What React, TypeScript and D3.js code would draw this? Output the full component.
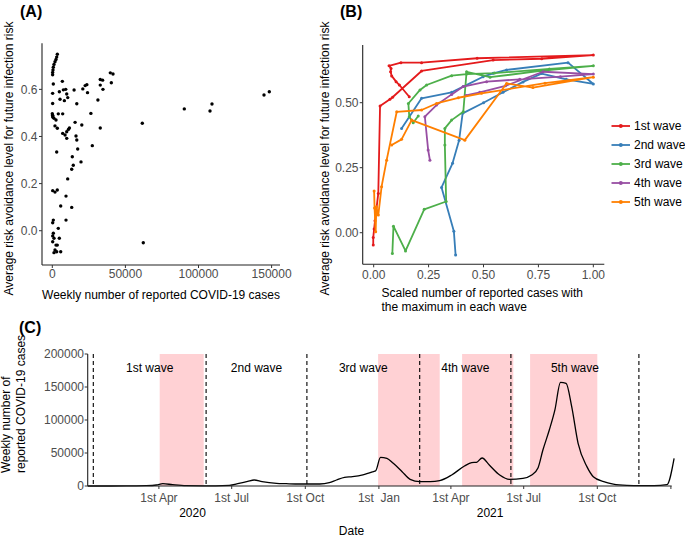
import React from 'react';
import * as d3 from 'd3';

const FONT = '"Liberation Sans", Arial, Helvetica, sans-serif';

// ---------- Panel A data ----------
const casesA = [
  3440, 2980, 2520, 1840, 1150, 690, 460, 230, 230,
  690, 6880, 230, 4820, 7570, 9170, 14900, 9860, 5280, 8260, 10550, 16750, 20870, 22480, 23630, 24090, 26390,
  31200, 32800, 34410, 32800, 34640, 39690, 41520, 40380, 32800,
  230, 0, 230, 460, 270, 1160, 2530, 4100, 7100,
  1840, 3440, 15590, 20180,
  7110, 8720, 9860, 11010, 11700, 9860, 16210, 16750, 17370, 27360, 3010, 13680, 14360, 13270, 19630, 10530,
  270, 1850, 3420, 9370, 5750, 13270, 9370, 700, 270, 4100,
  700, 270, 1160, 4800, 270, 2530, 3400, 1850, 1160, 3010, 5750,
  62240, 61560, 90290, 107870, 109230, 144800, 148430,
];
const riskA = [
  0.749, 0.737, 0.727, 0.717, 0.706, 0.694, 0.682, 0.672, 0.662,
  0.623, 0.634, 0.583, 0.59, 0.598, 0.6, 0.597, 0.58, 0.558, 0.552, 0.565, 0.539, 0.602, 0.616, 0.62, 0.586, 0.498,
  0.555, 0.642, 0.639, 0.618, 0.6, 0.67, 0.665, 0.628, 0.436,
  0.54, 0.497, 0.49, 0.482, 0.487, 0.477, 0.47, 0.496, 0.496,
  0.445, 0.435, 0.46, 0.449,
  0.413, 0.406, 0.42, 0.43, 0.436, 0.392, 0.402, 0.385, 0.347, 0.361, 0.334, 0.314, 0.278, 0.261, 0.292, 0.22,
  0.17, 0.164, 0.173, 0.147, 0.105, 0.099, 0.045, 0.045, 0.034, 0.01,
  -0.011, -0.022, -0.032, -0.032, -0.047, -0.061, -0.061, -0.082, -0.093, -0.089, -0.089,
  -0.051, 0.456, 0.517, 0.508, 0.538, 0.576, 0.59,
];
const xTicksA = [0, 50000, 100000, 150000];
const yTicksA = [0, 0.2, 0.4, 0.6];

// ---------- Panel B data (scaled cases, risk avoidance) ----------
const wave1 = [
  [-0.002, -0.047], [-0.002, -0.018], [0.002, 0.014], [0.006, 0.046], [0.021, 0.151], [0.029, 0.487],
  [0.074, 0.513], [0.086, 0.521], [0.218, 0.622], [0.544, 0.664], [0.765, 0.669], [1.0, 0.683],
  [0.471, 0.671], [0.218, 0.654], [0.124, 0.654], [0.07, 0.642], [0.079, 0.632], [0.077, 0.619],
  [0.082, 0.603], [0.102, 0.581], [0.117, 0.568], [0.162, 0.523],
];
const wave2 = [
  [0.373, -0.086], [0.365, 0.006], [0.309, 0.174], [0.359, 0.267], [0.389, 0.356], [0.405, 0.459],
  [0.5, 0.5], [0.589, 0.54], [0.68, 0.58], [0.764, 0.612], [0.877, 0.59], [1.0, 0.572], [0.885, 0.654],
  [0.605, 0.626], [0.544, 0.613], [0.498, 0.6], [0.408, 0.562], [0.355, 0.54], [0.218, 0.517], [0.127, 0.401],
];
const wave3 = [
  [0.085, -0.08], [0.09, 0.025], [0.145, -0.07], [0.23, 0.09], [0.33, 0.12], [0.324, 0.337], [0.324, 0.401],
  [0.355, 0.433], [0.408, 0.465], [0.423, 0.619], [0.53, 0.598], [0.76, 0.622], [1.0, 0.642], [0.8, 0.63],
  [0.55, 0.614], [0.423, 0.61], [0.355, 0.604], [0.241, 0.568], [0.211, 0.549], [0.158, 0.497],
  [0.162, 0.446], [0.18, 0.423], [0.203, 0.449],
];
const wave4 = [
  [0.256, 0.279], [0.248, 0.318], [0.233, 0.446], [0.286, 0.491], [0.355, 0.532], [0.408, 0.562],
  [0.514, 0.581], [0.665, 0.59], [0.85, 0.6], [1.0, 0.61], [0.771, 0.619], [0.6, 0.565], [0.483, 0.54],
  [0.42, 0.528],
];
const wave5 = [
  [0.082, 0.337], [0.127, 0.359], [0.173, 0.433], [0.415, 0.356], [0.605, 0.574], [0.725, 0.558],
  [1.0, 0.598], [0.78, 0.575], [0.491, 0.536], [0.385, 0.519], [0.286, 0.497], [0.218, 0.472],
  [0.105, 0.465], [0.059, 0.279], [0.036, 0.177], [0.021, 0.068], [0.012, 0.1], [0.009, 0.004],
  [0.004, 0.095], [0.002, 0.16],
];
const waveNames = ['1st wave', '2nd wave', '3rd wave', '4th wave', '5th wave'];
const waveColors = ['#E41A1C', '#377EB8', '#4DAF4A', '#984EA3', '#FF7F00'];
const xTicksB = [0, 0.25, 0.5, 0.75, 1.0];
const yTicksB = [0, 0.25, 0.5];

// ---------- Panel C data ----------
const weekDates = [
  '2020-01-03', '2020-02-01', '2020-03-01', '2020-03-16', '2020-03-29', '2020-04-06', '2020-04-18',
  '2020-05-05', '2020-05-26', '2020-06-11', '2020-06-28', '2020-07-10', '2020-07-21', '2020-07-29',
  '2020-08-08', '2020-08-26', '2020-09-07', '2020-09-24', '2020-10-06', '2020-10-19', '2020-10-31',
  '2020-11-09', '2020-11-19', '2020-11-29', '2020-12-12', '2020-12-25', '2020-12-28', '2021-01-03',
  '2021-01-11', '2021-01-19', '2021-01-30', '2021-02-09', '2021-02-21', '2021-03-06', '2021-03-18',
  '2021-04-02', '2021-04-18', '2021-04-27', '2021-05-03', '2021-05-10', '2021-05-19', '2021-06-01',
  '2021-06-13', '2021-06-30', '2021-07-11', '2021-07-19', '2021-07-25', '2021-08-02', '2021-08-09',
  '2021-08-16', '2021-08-23', '2021-08-30', '2021-09-07', '2021-09-18', '2021-09-26', '2021-10-09',
  '2021-10-21', '2021-11-07', '2021-11-24', '2021-12-11', '2021-12-27', '2022-01-05',
];
const weeklyCases = [
  0, 0, 200, 500, 1500, 3500, 2000,
  500, 300, 300, 1000, 4000, 7000, 9100,
  6600, 4000, 3500, 3000, 3000, 3000, 5000,
  9100, 13100, 14100, 16700, 21700, 23000, 43400,
  41900, 34300, 21700, 10100, 6600, 6600, 8100,
  16700, 30300, 35400, 35900, 42400, 31800, 16700,
  10100, 11600, 16700, 27800, 54500, 84800, 115200,
  157100, 155600, 120200, 64600, 29300, 14100, 6600,
  3000, 1000, 500, 500, 2000, 42000,
];
const emergencyStart = ['2020-04-02', '2020-12-31', '2021-04-15', '2021-07-09'];
const emergencyEnd = ['2020-05-27', '2021-03-18', '2021-06-18', '2021-10-01'];
const surveyDates = ['2020-01-10', '2020-05-30', '2020-10-03', '2021-02-21', '2021-06-15', '2021-11-22'];
const dateTicks = ['2020-04-01', '2020-07-01', '2020-10-01', '2021-01-01', '2021-04-01', '2021-07-01', '2021-10-01', '2022-01-01'];
const dateTickLabels = ['1st Apr', '1st Jul', '1st Oct', '1st\u00a0\u00a0Jan', '1st Apr', '1st Jul', '1st Oct', ''];
const yearLabels = ['2020', '2021'];
const yearLabelDates = ['2020-05-13', '2021-05-20'];
const yTicksC = [0, 50000, 100000, 150000, 200000];

const parse = d3.timeParse('%Y-%m-%d');

export default function App() {
  // Panel A scales
  const xA = d3.scaleLinear().domain([-7045, 155745]).range([42, 280]);
  const yA = d3.scaleLinear().domain([-0.1455, 0.7955]).range([265, 43.3]);
  // Panel B scales
  const xB = d3.scaleLinear().domain([-0.05, 1.05]).range([362.7, 604.3]);
  const yB = d3.scaleLinear().domain([-0.1215, 0.7219]).range([264.3, 45]);
  // Panel C scales
  const xC = d3.scaleTime().domain([parse('2020-01-03')!, parse('2022-01-02')!]).range([87.7, 671.7]);
  const yC = d3.scaleLinear().domain([0, 200000]).range([486, 354]);

  const waves = [wave1, wave2, wave3, wave4, wave5];
  const lineB = d3.line<number[]>().x((d) => xB(d[0])).y((d) => yB(d[1]));

  const caseData = weekDates.map((d, i) => ({ date: parse(d)!, v: weeklyCases[i] }));
  const lineC = d3
    .line<{ date: Date; v: number }>()
    .x((d) => xC(d.date))
    .y((d) => yC(d.v))
    .curve(d3.curveMonotoneX);

  const tickColor = '#333';
  const labelColor = '#4d4d4d';
  const axisColor = '#222';

  const fmtA = (v: number) => (v === 0 ? '0.0' : d3.format('.1f')(v));
  const fmtB = d3.format('.2f');

  const yTop = 354;
  const yBot = 486;

  // wave label positions: midpoints between survey boundary dates
  const waveLabelX = surveyDates.slice(0, 5).map((d, i) => (xC(parse(d)!) + xC(parse(surveyDates[i + 1])!)) / 2);

  return (
    <svg
      width={685}
      height={540}
      style={{ position: 'absolute', left: 0, top: 0, background: '#fff' }}
      fontFamily={FONT}
    >
      <rect x={0} y={0} width={685} height={540} fill="#fff" />

      {/* ================= Panel A ================= */}
      <text x={20} y={17} fontSize={16} fontWeight="bold" fill="#000">(A)</text>
      {casesA.map((c, i) => (
        <circle key={'a' + i} cx={xA(c)} cy={yA(riskA[i])} r={1.7} fill="#000" />
      ))}
      <line x1={42} x2={42} y1={43.3} y2={265} stroke={axisColor} strokeWidth={1.1} />
      <line x1={42} x2={280} y1={265} y2={265} stroke={axisColor} strokeWidth={1.1} />
      {yTicksA.map((t) => (
        <g key={'yta' + t}>
          <line x1={39} x2={42} y1={yA(t)} y2={yA(t)} stroke={tickColor} strokeWidth={1} />
          <text x={37.5} y={yA(t)} dy="0.35em" textAnchor="end" fontSize={12} fill={labelColor}>{fmtA(t)}</text>
        </g>
      ))}
      {xTicksA.map((t) => (
        <g key={'xta' + t}>
          <line x1={xA(t)} x2={xA(t)} y1={265} y2={268} stroke={tickColor} strokeWidth={1} />
          <text x={xA(t)} y={277.5} textAnchor="middle" fontSize={12} fill={labelColor}>{t}</text>
        </g>
      ))}
      <text x={161} y={299} textAnchor="middle" fontSize={12} fill="#000">Weekly number of reported COVID-19 cases</text>
      <text transform="translate(12.5,158.5) rotate(-90)" textAnchor="middle" fontSize={12} fill="#000">
        Average risk avoidance level for future infection risk
      </text>

      {/* ================= Panel B ================= */}
      <text x={340} y={17} fontSize={16} fontWeight="bold" fill="#000">(B)</text>
      {waves.map((w, i) => (
        <g key={'w' + i}>
          <path d={lineB(w) || ''} fill="none" stroke={waveColors[i]} strokeWidth={1.8} strokeLinejoin="round" />
          {w.map((p, j) => (
            <circle key={j} cx={xB(p[0])} cy={yB(p[1])} r={1.5} fill={waveColors[i]} />
          ))}
        </g>
      ))}
      <line x1={362.7} x2={362.7} y1={45} y2={264.3} stroke={axisColor} strokeWidth={1.1} />
      <line x1={362.7} x2={604.3} y1={264.3} y2={264.3} stroke={axisColor} strokeWidth={1.1} />
      {yTicksB.map((t) => (
        <g key={'ytb' + t}>
          <line x1={359.7} x2={362.7} y1={yB(t)} y2={yB(t)} stroke={tickColor} strokeWidth={1} />
          <text x={358.5} y={yB(t)} dy="0.35em" textAnchor="end" fontSize={12} fill={labelColor}>{fmtB(t)}</text>
        </g>
      ))}
      {xTicksB.map((t) => (
        <g key={'xtb' + t}>
          <line x1={xB(t)} x2={xB(t)} y1={264.3} y2={267.3} stroke={tickColor} strokeWidth={1} />
          <text x={xB(t)} y={279} textAnchor="middle" fontSize={12} fill={labelColor}>{fmtB(t)}</text>
        </g>
      ))}
      <text x={381.5} y={297} fontSize={12} fill="#000">Scaled number of reported cases with</text>
      <text x={381.5} y={311} fontSize={12} fill="#000">the maximum in each wave</text>
      <text transform="translate(329,158.5) rotate(-90)" textAnchor="middle" fontSize={12} fill="#000">
        Average risk avoidance level for future infection risk
      </text>
      {/* legend */}
      {waveNames.map((n, i) => {
        const ly = 126 + i * 19;
        return (
          <g key={'lg' + i}>
            <line x1={611.5} x2={630} y1={ly} y2={ly} stroke={waveColors[i]} strokeWidth={1.8} />
            <circle cx={620.8} cy={ly} r={2} fill={waveColors[i]} />
            <text x={634} y={ly} dy="0.35em" fontSize={12} fill="#000">{n}</text>
          </g>
        );
      })}

      {/* ================= Panel C ================= */}
      <text x={19} y={333} fontSize={16} fontWeight="bold" fill="#000">(C)</text>
      {emergencyStart.map((s, i) => (
        <rect
          key={'em' + i}
          x={xC(parse(s)!)}
          y={yTop}
          width={xC(parse(emergencyEnd[i])!) - xC(parse(s)!)}
          height={yBot - yTop}
          fill="#FFD1D4"
        />
      ))}
      {surveyDates.map((s, i) => (
        <line
          key={'sv' + i}
          x1={xC(parse(s)!)}
          x2={xC(parse(s)!)}
          y1={yTop}
          y2={yBot}
          stroke="#000"
          strokeWidth={1.1}
          strokeDasharray="4,3"
        />
      ))}
      {waveNames.map((n, i) => (
        <text key={'wl' + i} x={waveLabelX[i]} y={371.5} textAnchor="middle" fontSize={12} fill="#000">{n}</text>
      ))}
      <path d={lineC(caseData) || ''} fill="none" stroke="#000" strokeWidth={1.3} />
      <line x1={87.7} x2={87.7} y1={yTop} y2={yBot} stroke={axisColor} strokeWidth={1.1} />
      <line x1={87.7} x2={671.7} y1={yBot} y2={yBot} stroke={axisColor} strokeWidth={1.1} />
      {yTicksC.map((t) => (
        <g key={'ytc' + t}>
          <line x1={84.7} x2={87.7} y1={yC(t)} y2={yC(t)} stroke={tickColor} strokeWidth={1} />
          <text x={84} y={yC(t)} dy="0.35em" textAnchor="end" fontSize={12} fill={labelColor}>{t}</text>
        </g>
      ))}
      {dateTicks.map((d, i) => (
        <g key={'xtc' + i}>
          <line x1={xC(parse(d)!)} x2={xC(parse(d)!)} y1={yBot} y2={yBot + 3} stroke={tickColor} strokeWidth={1} />
          <text x={xC(parse(d)!)} y={501.5} textAnchor="middle" fontSize={12} fill={labelColor}>{dateTickLabels[i]}</text>
        </g>
      ))}
      {yearLabels.map((y, i) => (
        <text key={'yr' + i} x={xC(parse(yearLabelDates[i])!)} y={517} textAnchor="middle" fontSize={12} fill="#000">{y}</text>
      ))}
      <text x={351.5} y={535} textAnchor="middle" fontSize={12} fill="#000">Date</text>
      <text transform="translate(10,473) rotate(-90)" textAnchor="start" fontSize={12} fill="#000">Weekly number of</text>
      <text transform="translate(25,473) rotate(-90)" textAnchor="start" fontSize={12} fill="#000">reported COVID-19 cases</text>
    </svg>
  );
}
